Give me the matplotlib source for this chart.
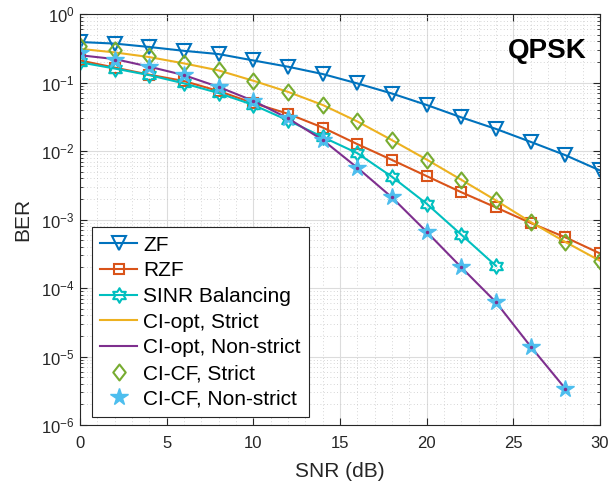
import numpy as np
import matplotlib
matplotlib.use("Agg")
import matplotlib.pyplot as plt
from matplotlib.path import Path
from matplotlib.ticker import LogLocator, NullFormatter

plt.rcParams['font.family'] = ['Liberation Sans', 'DejaVu Sans']
plt.rcParams['mathtext.fontset'] = 'custom'
plt.rcParams['mathtext.rm'] = 'Liberation Sans'

# BER curves (SNR in dB, step 2)
snr_db = [0, 2, 4, 6, 8, 10, 12, 14, 16, 18, 20, 22, 24, 26, 28, 30]
ber_zf = [0.39, 0.37, 0.33, 0.29, 0.26, 0.21, 0.17, 0.133, 0.097, 0.069,
          0.047, 0.031, 0.021, 0.0136, 0.0087, 0.0052]
ber_rzf = [0.21, 0.165, 0.13, 0.105, 0.075, 0.05, 0.035, 0.022, 0.0126, 0.0074,
           0.0043, 0.0025, 0.0015, 0.00089, 0.00055, 0.00032]
snr_sinr = [0, 2, 4, 6, 8, 10, 12, 14, 16, 18, 20, 22, 24]
ber_sinr = [0.197, 0.16, 0.128, 0.097, 0.07, 0.047, 0.028, 0.016, 0.0093, 0.0042,
            0.0017, 0.0006, 0.00021]
ber_ciopt_strict = [0.31, 0.275, 0.235, 0.19, 0.15, 0.106, 0.073, 0.047, 0.027, 0.0144,
                    0.0075, 0.0038, 0.0019, 0.00092, 0.00047, 0.00025]
ber_cicf_strict = [0.34, 0.30, 0.245, 0.19, 0.152, 0.106, 0.073, 0.047, 0.027, 0.0144,
                   0.0075, 0.0038, 0.0019, 0.00092, 0.00047, 0.00025]
snr_ns = [0, 2, 4, 6, 8, 10, 12, 14, 16, 18, 20, 22, 24, 26, 28]
ber_ciopt_ns = [0.25, 0.22, 0.17, 0.128, 0.086, 0.054, 0.030, 0.0145, 0.0057, 0.0021,
                0.00066, 0.0002, 6.2e-5, 1.4e-5, 3.4e-6]
ber_cicf_ns = [0.27, 0.21, 0.17, 0.128, 0.087, 0.054, 0.030, 0.0147, 0.0057, 0.0021,
               0.00066, 0.0002, 6.2e-5, 1.4e-5, 3.4e-6]

c_zf = '#0072BD'
c_rzf = '#D95319'
c_sinr = '#00BFBF'
c_yel = '#EDB120'
c_pur = '#7E2F8E'
c_grn = '#77AC30'
c_lb = '#4DBEEE'
c_ax = '#262626'

# MATLAB-style hexagram and diamond markers
ang = np.pi / 2 + np.arange(12) * np.pi / 6
rad = np.where(np.arange(12) % 2 == 0, 1.0, 1 / np.sqrt(3))
hex_verts = np.column_stack([rad * np.cos(ang), rad * np.sin(ang)])
hexagram = Path(np.vstack([hex_verts, hex_verts[:1]]), closed=True)
diamond = Path([(0, 1), (0.78, 0), (0, -1), (-0.78, 0), (0, 1)], closed=True)

fig, ax = plt.subplots(figsize=(6.16, 4.83), dpi=100)
fig.subplots_adjust(left=0.13, right=0.974, bottom=0.12, top=0.971)

lw = 1.5
ax.semilogy(snr_db, ber_zf, color=c_zf, lw=lw, marker='v', ms=10, mfc='none',
            mew=1.5, label='ZF')
ax.semilogy(snr_db, ber_rzf, color=c_rzf, lw=lw, marker='s', ms=7.5, mfc='none',
            mew=1.5, label='RZF')
ax.semilogy(snr_sinr, ber_sinr, color=c_sinr, lw=lw, marker=hexagram, ms=10.5,
            mfc='none', mew=1.5, label='SINR Balancing')
ax.semilogy(snr_db, ber_ciopt_strict, color=c_yel, lw=lw, label='CI-opt, Strict')
ax.semilogy(snr_ns, ber_ciopt_ns, color=c_pur, lw=lw, label='CI-opt, Non-strict')
ax.semilogy(snr_db, ber_cicf_strict, ls='none', marker=diamond, ms=11.5, mfc='none',
            mec=c_grn, mew=1.5, label='CI-CF, Strict')
ax.semilogy(snr_ns, ber_cicf_ns, ls='none', marker='*', ms=13, mfc=c_lb, mec=c_lb,
            label='CI-CF, Non-strict')
ax.semilogy(snr_ns, ber_cicf_ns, ls='none', marker='.', ms=3, color=c_pur)

ax.set_xlim(0, 30)
ax.set_ylim(1e-6, 1)
ax.set_xticks([0, 5, 10, 15, 20, 25, 30])
ax.yaxis.set_major_locator(LogLocator(base=10, numticks=10))
ax.yaxis.set_minor_locator(LogLocator(base=10, subs=np.arange(2, 10), numticks=20))
ax.yaxis.set_minor_formatter(NullFormatter())

ax.grid(True, which='major', color='#dcdcdc', lw=0.8)
ax.grid(True, which='minor', color='#c8c8c8', ls=(0, (1, 3)), lw=0.6)
ax.set_xticks(np.arange(0, 31, 1), minor=True)
ax.tick_params(axis='x', which='minor', length=0)
ax.set_axisbelow(True)

ax.tick_params(which='both', direction='in', top=True, right=True,
               colors=c_ax, labelsize=12)
ax.tick_params(which='major', length=5)
ax.tick_params(axis='x', which='major', pad=8)
ax.tick_params(axis='y', which='major', pad=4)
ax.tick_params(which='minor', axis='y', length=2.5)
for sp in ax.spines.values():
    sp.set_color(c_ax)
    sp.set_linewidth(0.8)

ax.set_xlabel('SNR (dB)', fontsize=15, color=c_ax, labelpad=8)
ax.set_ylabel('BER', fontsize=15, color=c_ax, labelpad=6)

ax.text(0.975, 0.91, 'QPSK', transform=ax.transAxes, ha='right', va='center',
        fontsize=20, fontweight='bold')

leg = ax.legend(loc='lower left', bbox_to_anchor=(0.023, 0.0195), fontsize=15,
                fancybox=False, framealpha=1, edgecolor=c_ax,
                handlelength=1.75, handletextpad=0.3, labelspacing=0.32,
                borderpad=0.4, borderaxespad=0)
leg.get_frame().set_linewidth(0.8)

fig.savefig('out.png', dpi=100)
